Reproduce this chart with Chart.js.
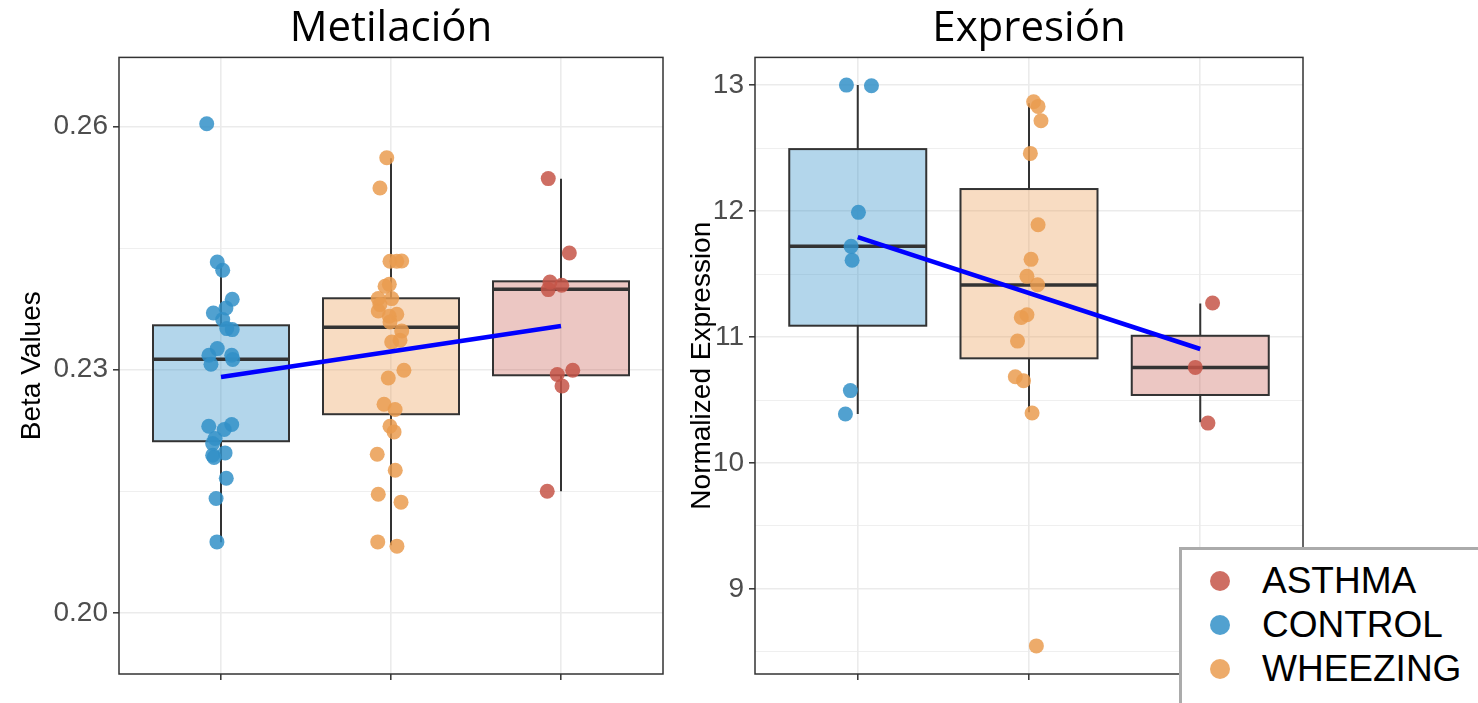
<!DOCTYPE html>
<html>
<head>
<meta charset="utf-8">
<title>Metilación / Expresión</title>
<script src="https://cdn.jsdelivr.net/npm/chart.js@4.4.1/dist/chart.umd.min.js"></script>
<style>
  html, body { margin: 0; padding: 0; background: #fff; }
  #wrap { position: relative; width: 1478px; height: 703px; overflow: hidden; }
  canvas { position: absolute; top: 0; }
  #meth { left: 0; }
  #expr { left: 680px; }
  #legend {
    position: absolute; left: 1179px; top: 547px; width: 320px; height: 170px;
    box-sizing: border-box; border: 3px solid #ababab; background: #fff;
    font-family: 'Liberation Sans', Arial, sans-serif; font-size: 37px; color: #000;
  }
  #legend .row { position: absolute; left: 0; height: 40px; line-height: 40px; white-space: nowrap; }
  #legend .dot { position: absolute; left: 28px; top: 10px; width: 20px; height: 20px; border-radius: 50%; }
  #legend .lbl { position: absolute; left: 80px; top: 0; }
</style>
</head>
<body>
<div id="wrap">
  <canvas id="meth" width="680" height="703"></canvas>
  <canvas id="expr" width="798" height="703"></canvas>
  <div id="legend"></div>
</div>
<script>
// x positions: 1 = CONTROL, 2 = WHEEZING, 3 = ASTHMA (jittered)
const groups = ['CONTROL', 'WHEEZING', 'ASTHMA']
const legendOrder = ['ASTHMA', 'CONTROL', 'WHEEZING']

// Metilación (Beta values)
const methTicks = [0.20, 0.23, 0.26]
const methMinorTicks = [0.215, 0.245]
const methWhiskerLow = [0.20875, 0.20838, 0.21503]
const methQ1 = [0.22119, 0.22452, 0.22932]
const methMedian = [0.23129, 0.23524, 0.23992]
const methQ3 = [0.23548, 0.23881, 0.2409]
const methWhiskerHigh = [0.24312, 0.25606, 0.25353]
const methTrend = [0.22911, 0.2354]
const methControl = [
  [0.916, 0.26033], [0.978, 0.24328], [1.010, 0.24226], [1.066, 0.23869], [1.029, 0.23762],
  [0.955, 0.2370], [1.010, 0.23618], [1.034, 0.23507], [1.066, 0.23495], [0.978, 0.23261],
  [0.929, 0.23179], [0.941, 0.23068], [1.063, 0.23179], [1.069, 0.23126], [0.928, 0.22304],
  [1.063, 0.22325], [1.019, 0.22263], [0.965, 0.22152], [0.951, 0.2209], [0.951, 0.21947],
  [1.024, 0.21975], [0.959, 0.2192], [1.031, 0.21663], [0.971, 0.21413], [0.976, 0.20878]
]
const methWheezing = [
  [1.975, 0.25614], [1.935, 0.2524], [1.994, 0.24337], [2.034, 0.24337], [2.063, 0.2434],
  [1.990, 0.24053], [1.965, 0.24029], [1.925, 0.23877], [2.004, 0.23877], [1.935, 0.23803],
  [1.925, 0.23724], [1.990, 0.23659], [2.034, 0.23684], [1.994, 0.23589], [2.063, 0.23479],
  [2.004, 0.23343], [2.053, 0.23363], [2.076, 0.22994], [1.984, 0.22899], [1.959, 0.22575],
  [2.024, 0.2251], [1.994, 0.22304], [2.018, 0.22234], [1.919, 0.21959], [2.025, 0.21762],
  [1.925, 0.21466], [2.059, 0.21368], [1.922, 0.20878], [2.035, 0.20826]
]
const methAsthma = [
  [2.925, 0.25356], [3.049, 0.24439], [2.935, 0.24082], [3.004, 0.24041], [2.925, 0.23988],
  [2.978, 0.22941], [3.069, 0.22994], [3.006, 0.228], [2.919, 0.21503]
]

// Expresión (normalized expression)
const exprTicks = [9, 10, 11, 12, 13]
const exprMinorTicks = [8.5, 9.5, 10.5, 11.5, 12.5]
const exprWhiskerLow = [10.389, 10.402, 10.323]
const exprQ1 = [11.09, 10.831, 10.54]
const exprMedian = [11.72, 11.413, 10.759]
const exprQ3 = [12.492, 12.175, 11.01]
const exprWhiskerHigh = [13.0, 12.857, 11.267]
const exprTrend = [11.794, 10.905]
const exprControl = [
  [0.934, 13.0], [1.080, 12.995], [1.004, 11.99], [0.961, 11.72], [0.967, 11.61],
  [0.957, 10.575], [0.928, 10.389]
]
const exprWheezing = [
  [2.027, 12.868], [2.053, 12.831], [2.070, 12.717], [2.008, 12.458], [2.053, 11.891],
  [2.012, 11.617], [1.988, 11.482], [2.050, 11.415], [1.988, 11.177], [1.955, 11.156],
  [1.933, 10.968], [1.920, 10.685], [1.968, 10.653], [2.018, 10.397], [2.043, 8.548]
]
const exprAsthma = [[3.072, 11.27], [2.971, 10.759], [3.045, 10.317]]

const pointColors = {
  CONTROL: 'rgba(50, 145, 200, 0.85)',
  WHEEZING: 'rgba(234, 156, 80, 0.85)',
  ASTHMA: 'rgba(198, 85, 72, 0.85)'
}
const boxFills = ['rgba(50, 145, 200, 0.37)', 'rgba(234, 156, 80, 0.35)', 'rgba(198, 85, 72, 0.33)']

Chart.defaults.font.family = "'Liberation Sans', Arial, sans-serif"
Chart.defaults.color = '#4d4d4d'

const boxPlot = {
  id: 'boxPlot',
  beforeDatasetsDraw (chart, args, opts) {
    const { ctx, scales: { x, y } } = chart
    ctx.save()
    ctx.strokeStyle = '#333'
    opts.median.forEach((m, i) => {
      const cx = x.getPixelForValue(i + 1)
      const half = x.getPixelForValue(i + 1.4) - cx
      const top = y.getPixelForValue(opts.q3[i])
      const bot = y.getPixelForValue(opts.q1[i])
      ctx.lineWidth = 2
      ctx.beginPath()
      ctx.moveTo(cx, y.getPixelForValue(opts.high[i]))
      ctx.lineTo(cx, top)
      ctx.moveTo(cx, bot)
      ctx.lineTo(cx, y.getPixelForValue(opts.low[i]))
      ctx.stroke()
      ctx.fillStyle = boxFills[i]
      ctx.fillRect(cx - half, top, 2 * half, bot - top)
      ctx.strokeRect(cx - half, top, 2 * half, bot - top)
      const my = y.getPixelForValue(m)
      ctx.lineWidth = 3.5
      ctx.beginPath()
      ctx.moveTo(cx - half, my)
      ctx.lineTo(cx + half, my)
      ctx.stroke()
    })
    ctx.restore()
  },
  afterDraw (chart) {
    const { ctx, chartArea: a } = chart
    ctx.save()
    ctx.strokeStyle = '#333'
    ctx.lineWidth = 1.5
    ctx.strokeRect(a.left, a.top, a.right - a.left, a.bottom - a.top)
    ctx.restore()
  }
}

function scatterSet (label, pts) {
  return {
    label,
    data: pts.map(p => ({ x: p[0], y: p[1] })),
    pointRadius: 7.5,
    pointBackgroundColor: pointColors[label],
    pointBorderWidth: 0,
    order: 1
  }
}

function makeChart (id, cfg) {
  const isMajor = c => c.tick && cfg.ticks.includes(c.tick.value)
  return new Chart(document.getElementById(id), {
    type: 'scatter',
    data: {
      datasets: [
        {
          type: 'line',
          data: [{ x: 1, y: cfg.trend[0] }, { x: 3, y: cfg.trend[1] }],
          borderColor: '#0000ff',
          borderWidth: 4.5,
          pointRadius: 0,
          order: 0
        },
        scatterSet('CONTROL', cfg.points[0]),
        scatterSet('WHEEZING', cfg.points[1]),
        scatterSet('ASTHMA', cfg.points[2])
      ]
    },
    options: {
      responsive: false,
      animation: false,
      events: [],
      layout: { padding: { left: 0, right: cfg.padRight, top: 0, bottom: 0 } },
      scales: {
        x: {
          type: 'linear',
          min: 0.4,
          max: 3.6,
          afterBuildTicks: s => { s.ticks = groups.map((g, i) => ({ value: i + 1 })) },
          afterFit: s => { s.height = 29 },
          ticks: { callback: () => '', padding: 0 },
          grid: { color: '#ebebeb', lineWidth: 1.6, tickLength: 6, tickColor: '#333', tickWidth: 1.5 },
          border: { display: false }
        },
        y: {
          min: cfg.min,
          max: cfg.max,
          afterBuildTicks: s => {
            s.ticks = cfg.ticks.concat(cfg.minor).sort((a, b) => a - b).map(v => ({ value: v }))
          },
          afterFit: s => { s.width = cfg.axisWidth },
          ticks: {
            callback: v => cfg.ticks.includes(v) ? cfg.fmt(v) : '',
            color: '#4d4d4d',
            font: { size: 28 },
            padding: 5,
            autoSkip: false
          },
          grid: {
            color: '#ebebeb',
            lineWidth: c => isMajor(c) ? 1.6 : 0.8,
            tickLength: 6,
            tickColor: c => isMajor(c) ? '#333' : 'rgba(0,0,0,0)',
            tickWidth: 1.5
          },
          title: {
            display: true,
            text: cfg.yTitle,
            color: '#000',
            font: { size: 28 },
            padding: { top: cfg.titlePad, bottom: 0 }
          },
          border: { display: false }
        }
      },
      plugins: {
        legend: { display: false },
        tooltip: { enabled: false },
        title: {
          display: true,
          text: cfg.title,
          fullSize: false,
          color: '#000',
          font: { family: "'Open Sans', sans-serif", size: 42, weight: 'normal' },
          padding: { top: 4, bottom: 3 }
        },
        boxPlot: {
          low: cfg.low, q1: cfg.q1, median: cfg.median, q3: cfg.q3, high: cfg.high
        }
      }
    },
    plugins: [boxPlot]
  })
}

makeChart('meth', {
  title: 'Metilación',
  yTitle: 'Beta Values',
  min: 0.1925,
  max: 0.2685,
  ticks: methTicks,
  minor: methMinorTicks,
  fmt: v => v.toFixed(2),
  axisWidth: 119,
  titlePad: 15,
  padRight: 17,
  trend: methTrend,
  points: [methControl, methWheezing, methAsthma],
  low: methWhiskerLow, q1: methQ1, median: methMedian, q3: methQ3, high: methWhiskerHigh
})

makeChart('expr', {
  title: 'Expresión',
  yTitle: 'Normalized Expression',
  min: 8.325,
  max: 13.22,
  ticks: exprTicks,
  minor: exprMinorTicks,
  fmt: v => String(v),
  axisWidth: 75,
  titlePad: 5,
  padRight: 175,
  trend: exprTrend,
  points: [exprControl, exprWheezing, exprAsthma],
  low: exprWhiskerLow, q1: exprQ1, median: exprMedian, q3: exprQ3, high: exprWhiskerHigh
})

const legend = document.getElementById('legend')
legendOrder.forEach((g, i) => {
  const row = document.createElement('div')
  row.className = 'row'
  row.style.top = (11 + i * 44) + 'px'
  row.innerHTML = '<span class="dot" style="background:' + pointColors[g] + '"></span><span class="lbl">' + g + '</span>'
  legend.appendChild(row)
})
</script>
</body>
</html>
